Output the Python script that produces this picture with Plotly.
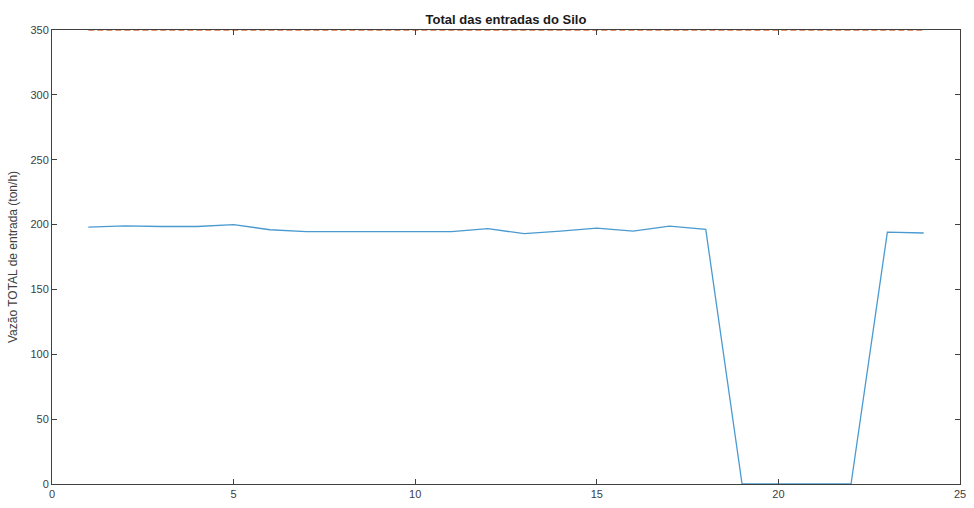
import plotly.graph_objects as go

hours = list(range(1, 25))
vazao_total = [198, 199, 198.5, 198.5, 200, 196, 194.5, 194.5, 194.5, 194.5, 194.5, 196.8,
               193, 195, 197.3, 195, 198.8, 196.3, 0, 0, 0, 0, 194.2, 193.5]
limite_x = [1, 24]
limite_y = [350, 350]

fig = go.Figure()
fig.add_trace(go.Scatter(x=hours, y=vazao_total, mode="lines",
                         line=dict(color="#4a9ad0", width=1.3), showlegend=False))
fig.add_trace(go.Scatter(x=limite_x, y=limite_y, mode="lines",
                         line=dict(color="#DA6A3C", width=1.3, dash="6px,3px"), showlegend=False))

axis_common = dict(showgrid=False, zeroline=False, showline=True, linecolor="#404040",
                   linewidth=1, mirror="ticks", ticks="inside", ticklen=5, tickcolor="#404040",
                   tickfont=dict(family="Liberation Sans, Arial", size=11, color="#404040"))

fig.update_layout(
    width=974, height=508,
    margin=dict(l=52, r=8, t=30, b=21),
    paper_bgcolor="white", plot_bgcolor="white",
    title=dict(text="<b>Total das entradas do Silo</b>", x=0.5, xref="paper", xanchor="center",
               y=0.962, yanchor="middle",
               font=dict(family="Liberation Sans, Arial", size=13, color="#1a1a1a")),
    xaxis=dict(range=[0, 25], tickvals=[0, 5, 10, 15, 20, 25], **axis_common),
    yaxis=dict(range=[0, 350], tickvals=[0, 50, 100, 150, 200, 250, 300, 350],
               title=dict(text="Vazão TOTAL de entrada (ton/h)", standoff=10,
                          font=dict(family="Liberation Sans, Arial", size=12, color="#404040")),
               **axis_common),
)

fig.write_html("out.html")
